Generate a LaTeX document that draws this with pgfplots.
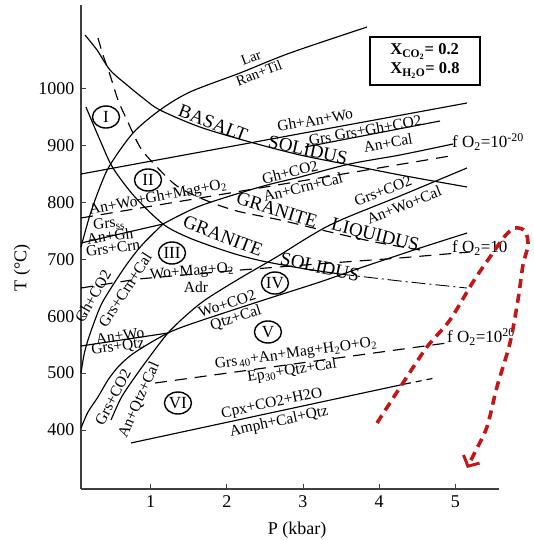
\documentclass[border=0pt]{standalone}
\usepackage{fontspec}
\setmainfont{Liberation Serif}
\usepackage{pgfplots}
\pgfplotsset{compat=1.18}
\usetikzlibrary{shapes.geometric,arrows.meta}
\newcommand{\lab}{\fontsize{15.5}{16}\selectfont}
\newcommand{\caplab}{\fontsize{19}{20}\selectfont}
\definecolor{redp}{RGB}{192,24,24}
\tikzset{
  ln/.style={black, line width=1.15pt},
  ell/.style={draw, ellipse, line width=1.4pt, inner sep=0.5pt, minimum height=22pt, minimum width=27pt, font=\fontsize{17}{17}\selectfont},
  rl/.style={font=\lab, inner sep=0pt},
  cl/.style={font=\caplab, inner sep=0pt},
}
\begin{document}
\begin{tikzpicture}
\useasboundingbox (-81pt,-51pt) rectangle (452pt,489pt);
\begin{axis}[
  at={(0,0)}, anchor=south west,
  scale only axis, width=418pt, height=484pt,
  xmin=0.085, xmax=5.574, ymin=296.4, ymax=1146.3,
  axis x line=bottom, axis y line=left,
  axis line style={-, line width=1.5pt, black!75},
  xtick={1,2,3,4,5}, ytick={400,500,...,1000},
  tick align=inside, major tick length=5pt,
  tick style={line width=0.8pt, black!75},
  clip=false,
  /pgf/number format/assume math mode=true,
  /pgf/number format/set thousands separator={},
  ticklabel style={font=\fontsize{18}{18}\selectfont},
  xticklabel style={yshift=-3pt},
  yticklabel style={xshift=-3pt},
  xlabel={P (kbar)}, ylabel={T (°C)},
  label style={font=\fontsize{18}{18}\selectfont},
  xlabel style={at={(axis description cs:0.517,-0.0847)}, anchor=center},
  ylabel style={at={(axis description cs:-0.141,0.457)}, anchor=center},
]
% Basalt solidus
\addplot[ln, smooth] coordinates {(0.137,1093.6)(0.295,1067.3)(0.466,1032.2)(0.689,1005.8)(0.899,983.0)(1.122,961.9)(1.647,932.0)(2.304,905.7)(2.961,882.9)(3.617,865.3)(4.274,847.8)(5.154,826.7)};
% Granite solidus
\addplot[ln, smooth] coordinates {(0.150,967.2)(0.334,909.2)(0.505,860.1)(0.794,809.1)(1.162,761.7)(1.450,740.6)(1.753,724.9)(2.107,709.1)(2.462,696.8)(2.961,684.4)(3.486,673.9)};
\addplot[ln, line width=0.9pt, dash pattern=on 14pt off 4pt on 2pt off 4pt] coordinates {(3.486,673.9)(4.274,661.6)(5.154,649.3)};
% Lar = Ran + Til
\addplot[ln, smooth] coordinates {(0.085,721.3)(0.203,777.6)(0.334,826.7)(0.466,865.3)(0.768,921.5)(1.122,961.9)(1.516,993.5)(2.173,1026.9)(2.829,1062.0)(3.841,1107.6)};
% Granite liquidus (dashed)
\addplot[ln, smooth, dash pattern=on 11pt off 7pt] coordinates {(0.308,1088.3)(0.374,1058.5)(0.466,1023.4)(0.571,979.5)(0.689,944.3)(0.860,896.9)(1.057,865.3)(1.345,828.4)(1.713,803.9)(2.133,784.5)(2.698,768.8)(3.355,747.7)(3.946,730.1)(4.537,716.1)};
% Gh+An+Wo = Grs
\addplot[ln] coordinates {(0.085,849.5)(5.154,974.2)};
% Grs+Gh+CO2 = An+Cal
\addplot[ln] coordinates {(3.026,896.9)(4.799,942.6)};
% Gh+CO2 = An+Crn+Cal
\addplot[ln, smooth] coordinates {(1.162,761.7)(1.647,793.4)(2.435,826.7)(2.961,844.3)(3.617,867.2)(4.274,882.9)(4.970,902.2)};
% fO2 = 10^-20 : An+Wo+Gh+Mag+O2 = Grs_ss
\addplot[ln, dash pattern=on 12pt off 8pt] coordinates {(0.085,772.3)(4.930,881.1)};
% Gh+CO2 = Grs+Crn+Cal
\addplot[ln, smooth] coordinates {(0.085,500.1)(0.124,531.7)(0.177,558.1)(0.269,593.2)(0.361,623.0)(0.505,654.6)(0.689,691.5)(0.886,724.9)(1.162,761.7)};
% An+Gh = Grs+Crn
\addplot[ln] coordinates {(0.085,728.4)(1.162,761.7)};
% Wo+Mag+O2 = Adr (dashed)
\addplot[ln, dash pattern=on 12pt off 8pt] coordinates {(0.085,649.3)(0.833,665.1)(2.173,680.9)(3.355,693.2)(4.274,702.1)(5.193,712.6)};
% Grs+CO2 = ... / Wo+CO2 = Qtz+Cal
\addplot[ln, smooth] coordinates {(0.085,403.5)(0.177,431.6)(0.308,458.0)(0.439,487.8)(0.571,510.6)(0.728,530.0)(0.925,547.5)(1.227,570.3)(1.490,584.4)(2.041,609.0)(2.567,631.8)(3.223,659.9)(3.788,686.2)(4.537,719.6)(5.154,745.9)};
% An+Qtz+Cal / Grs+CO2 = An+Wo+Cal
\addplot[ln, smooth] coordinates {(0.479,417.6)(0.597,452.7)(0.702,475.5)(0.925,517.6)(1.227,570.3)(1.516,607.2)(1.753,631.8)(2.199,668.6)(2.632,702.1)(3.355,760.0)(4.274,810.9)(5.154,860.1)};
% An+Wo = Grs+Qtz
\addplot[ln] coordinates {(0.085,547.5)(1.227,570.3)};
% Grs40 ... = Ep30+Qtz+Cal (dashed)
\addplot[ln, dash pattern=on 12pt off 8pt] coordinates {(1.057,482.5)(4.891,552.8)};
% Cpx+CO2+H2O = Amph+Cal+Qtz
\addplot[ln] coordinates {(0.741,377.2)(4.339,480.8)};
\addplot[ln, dash pattern=on 6pt off 5pt] coordinates {(4.339,480.8)(4.733,491.3)};

% labels
\node[rl, rotate=21] at (axis cs:2.317,1053.2) {\fontsize{14.5}{15}\selectfont Lar};
\node[rl, rotate=21] at (axis cs:2.422,1026.9) {\fontsize{14.5}{15}\selectfont Ran+Til};
\node[cl, rotate=-21] at (axis cs:1.818,939.1) {BASALT};
\node[cl, rotate=-12] at (axis cs:3.066,891.7) {SOLIDUS};
\node[rl, rotate=10] at (axis cs:3.158,944.3) {Gh+An+Wo};
\node[rl, rotate=10] at (axis cs:3.223,911.0) {Grs};
\node[rl, rotate=10] at (axis cs:3.985,930.3) {Grs+Gh+CO2};
\node[rl, rotate=10] at (axis cs:4.116,904.0) {An+Cal};
\node[rl, rotate=14] at (axis cs:2.829,853.0) {Gh+CO2};
\node[rl, rotate=14] at (axis cs:3.000,826.7) {An+Crn+Cal};
\node[cl, rotate=-17] at (axis cs:2.659,786.3) {GRANITE};
\node[cl, rotate=-14] at (axis cs:3.946,740.7) {LIQUIDUS};
\node[rl, rotate=22] at (axis cs:4.051,819.7) {Grs+CO2};
\node[rl, rotate=22] at (axis cs:4.326,795.1) {An+Wo+Cal};
\node[font=\fontsize{17}{17}\selectfont, anchor=west, inner sep=0pt] at (axis cs:4.957,905.7) {f O\textsubscript{2}=10\textsuperscript{-20}};
\node[font=\fontsize{17}{17}\selectfont, anchor=west, inner sep=0pt] at (axis cs:4.957,719.6) {f O\textsubscript{2}=10};
\node[font=\fontsize{17}{17}\selectfont, anchor=west, inner sep=0pt] at (axis cs:4.891,563.3) {f O\textsubscript{2}=10\textsuperscript{20}};
\node[draw, line width=1.2pt, minimum width=110pt, minimum height=48pt, align=left, font=\fontsize{16.5}{19}\selectfont\bfseries, inner sep=3pt] at (axis cs:4.602,1047.9) {X\textsubscript{CO\textsubscript{2}}= 0.2\\X\textsubscript{H\textsubscript{2}O}= 0.8};
\node[ell] at (axis cs:0.413,949.6) {I};
\node[ell] at (axis cs:0.965,839.0) {II};
\node[ell] at (axis cs:1.280,710.8) {III};
\node[ell] at (axis cs:2.632,658.1) {IV};
\node[ell] at (axis cs:2.540,572.1) {V};
\node[ell] at (axis cs:1.358,447.4) {VI};
\node[rl, rotate=11] at (axis cs:1.096,807.4) {An+Wo+Gh+Mag+O\textsubscript{2}};
\node[rl, rotate=5] at (axis cs:0.452,761.7) {Grs\textsubscript{ss}};
\node[rl, rotate=8] at (axis cs:0.466,740.7) {An+Gh};
\node[rl, rotate=8] at (axis cs:0.505,719.6) {Grs+Crn};
\node[cl, rotate=-21] at (axis cs:1.949,740.7) {GRANITE};
\node[cl, rotate=-12] at (axis cs:3.223,686.2) {SOLIDUS};
\node[rl, rotate=60] at (axis cs:0.242,635.0) {Gh+CO2};
\node[rl, rotate=57] at (axis cs:0.663,646.0) {Grs+Crn+Cal};
\node[rl, rotate=5] at (axis cs:1.542,677.4) {Wo+Mag+O\textsubscript{2}};
\node[rl] at (axis cs:1.595,651.1) {Adr};
\node[rl, rotate=18] at (axis cs:2.002,621.3) {Wo+CO2};
\node[rl, rotate=18] at (axis cs:2.120,596.7) {Qtz+Cal};
\node[rl, rotate=8] at (axis cs:0.597,565.1) {An+Wo};
\node[rl, rotate=8] at (axis cs:0.571,545.8) {Grs+Qtz};
\node[rl, rotate=62] at (axis cs:0.505,458.0) {Grs+CO2};
\node[rl, rotate=66] at (axis cs:0.850,452.7) {An+Qtz+Cal};
\node[rl, rotate=8] at (axis cs:2.908,533.5) {Grs\textsubscript{\,40}+An+Mag+H\textsubscript{2}O+O\textsubscript{2}};
\node[rl, rotate=9] at (axis cs:2.856,503.6) {Ep\textsubscript{30}+Qtz+Cal};
\node[rl, rotate=12] at (axis cs:2.593,445.7) {Cpx+CO2+H2O};
\node[rl, rotate=12] at (axis cs:2.685,414.1) {Amph+Cal+Qtz};

% red P-T path
\addplot[redp, line width=3.6pt, smooth, dash pattern=on 9pt off 6pt, -{Straight Barb[length=8pt,width=18pt,line width=3pt]}] coordinates {(3.972,412.3)(4.313,482.6)(4.628,545.8)(4.930,593.2)(5.232,659.9)(5.456,703.8)(5.653,740.7)(5.784,754.7)(5.916,749.4)(5.955,724.9)(5.889,689.7)(5.823,628.3)(5.718,552.8)(5.547,475.5)(5.416,405.3)(5.259,361.4)(5.154,333.3)};
\end{axis}
\end{tikzpicture}
\end{document}
